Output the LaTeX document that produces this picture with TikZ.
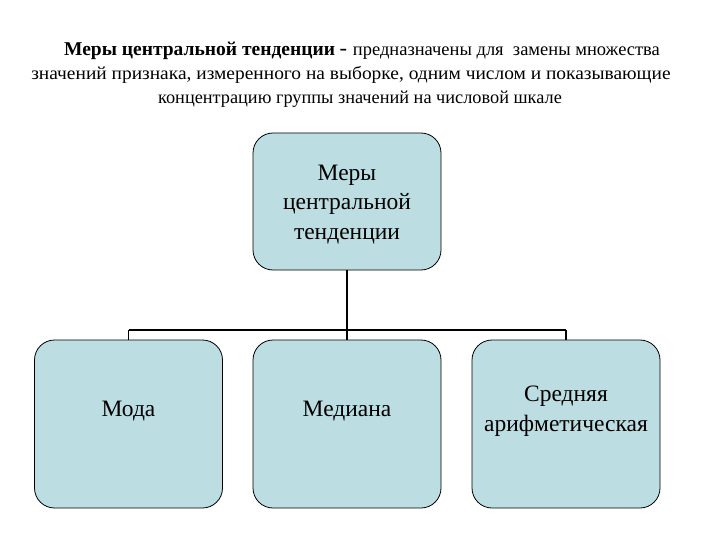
\documentclass[tikz,border=0pt]{standalone}
\usepackage{fontspec}
\setmainfont{Liberation Serif}
\newfontfamily\tnr{Liberation Serif}
\begin{document}
\begin{tikzpicture}[x=1pt,y=-1pt,
  box/.style={draw=black, line width=0.8pt, fill=boxfill, rounded corners=20pt, minimum width=188pt, minimum height=168pt, inner sep=0pt},
  lbl/.style={align=center, font=\tnr\fontsize{23.5}{29.5}\selectfont, inner sep=0pt},
  conn/.style={draw=black, line width=2.2pt},
  bar/.style={draw=black, line width=1.8pt},
  hdr/.style={font=\tnr\fontsize{18.3}{20}\selectfont, inner sep=0pt, anchor=base}]
\definecolor{boxfill}{RGB}{188,222,226}
\useasboundingbox (0,0) rectangle (720,540);
\node[hdr, scale=1.027] (h1) at (362,56) {\textbf{\fontsize{19}{20}\selectfont Меры центральной тенденции} \fontsize{22}{20}\selectfont- \fontsize{18}{20}\selectfont предназначены для\ \ замены множества};
\node[hdr, xscale=1.062] (h2) at (351,80) {значений признака, измеренного на выборке, одним числом и показывающие};
\node[hdr] (h3) at (360,104) {концентрацию группы значений на числовой шкале};
\node[box, minimum height=137pt, label={[lbl, yshift=-3pt]center:Меры\\центральной\\тенденции}] (top) at (347,201.5) {};
\node[box, label={[lbl, yshift=13pt]center:Мода}] (moda) at (128.5,424) {};
\node[box, label={[lbl, yshift=13pt]center:Медиана}] (med) at (347,424) {};
\node[box, label={[lbl, yshift=13pt]center:Средняя\\арифметическая}] (avg) at (566,424) {};
\coordinate (j) at (347,330);
\coordinate (jl) at (128.5,330);
\coordinate (jr) at (566,330);
\draw[conn] (top.south) -- (j);
\draw[bar] (jl) -- (jr);
\draw[bar] (jl) -- (moda.north);
\draw[bar] (j) -- (med.north);
\draw[bar] (jr) -- (avg.north);
\end{tikzpicture}
\end{document}
